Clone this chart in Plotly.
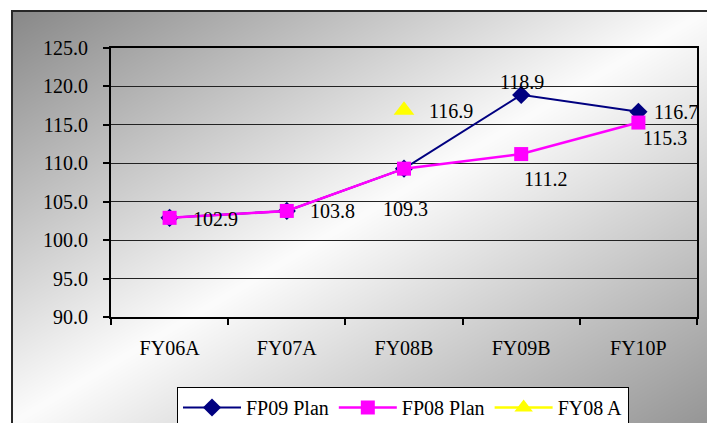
import base64
import struct
import zlib

import numpy as np
import plotly.graph_objects as go

# ---- data ----
categories = ["FY06A", "FY07A", "FY08B", "FY09B", "FY10P"]
fp09_plan = [102.9, 103.8, 109.3, 118.9, 116.7]
fp08_plan = [102.9, 103.8, 109.3, 111.2, 115.3]
fy08_actual_cat = ["FY08B"]
fy08_actual = [116.9]
y_ticks = [90.0, 95.0, 100.0, 105.0, 110.0, 115.0, 120.0, 125.0]

W, H = 707, 423
ML, MR, MT, MB = 111, 10, 48, 106
PW, PH = W - ML - MR, H - MT - MB
FONT = "Liberation Serif"


def png_data_uri(gray):
    """Encode a 2-D uint8 array as a grayscale PNG data URI."""
    h, w = gray.shape
    raw = b"".join(b"\x00" + gray[r].tobytes() for r in range(h))

    def chunk(tag, data):
        c = struct.pack(">I", len(data)) + tag + data
        return c + struct.pack(">I", zlib.crc32(tag + data) & 0xFFFFFFFF)

    png = b"\x89PNG\r\n\x1a\n"
    png += chunk(b"IHDR", struct.pack(">IIBBBBB", w, h, 8, 0, 0, 0, 0))
    png += chunk(b"IDAT", zlib.compress(raw, 9))
    png += chunk(b"IEND", b"")
    return "data:image/png;base64," + base64.b64encode(png).decode()


# chart-area backdrop: diagonal gray -> white -> gray gradient inside a dark frame
fx0, fy0 = 11, 10
yy, xx = np.mgrid[0:H, 0:W].astype(float)
t = (xx - fx0) / (W - fx0) + (yy - fy0) / (H - fy0)
g = np.where(t <= 1.0, 136 + 116 * t, 252 - 102 * (t - 1.0))
g = np.clip(g, 0, 255)
g[(xx < fx0) | (yy < fy0)] = 255
g[(yy >= fy0) & (yy < fy0 + 2) & (xx >= fx0)] = 40
g[(xx >= fx0) & (xx < fx0 + 2) & (yy >= fy0)] = 40
bg_uri = png_data_uri(g.astype(np.uint8))


def px_x(p):
    return (p - ML) / PW


def px_y(p):
    return (H - MB - p) / PH


fig = go.Figure()
fig.add_trace(go.Scatter(
    x=categories, y=fp09_plan, name="FP09 Plan", mode="lines+markers",
    line=dict(color="#000080", width=2),
    marker=dict(symbol="diamond", size=14, color="#000080"),
))
fig.add_trace(go.Scatter(
    x=categories, y=fp08_plan, name="FP08 Plan", mode="lines+markers",
    line=dict(color="#FF00FF", width=2.5),
    marker=dict(symbol="square", size=14, color="#FF00FF"),
))
fig.add_trace(go.Scatter(
    x=fy08_actual_cat, y=fy08_actual, name="FY08 A", mode="lines+markers",
    line=dict(color="#FFFF00", width=2.5),
    marker=dict(symbol="triangle-up", size=18, color="#FFFF00"),
))

# value labels: (category, value, x offset, y offset)
label_specs = [
    (categories[0], fp08_plan[0], 46, -1),
    (categories[1], fp08_plan[1], 46, 0),
    (categories[2], fp08_plan[2], 1, -40),
    (categories[3], fp08_plan[3], 25, -25),
    (categories[4], fp08_plan[4], 27, -15),
    (categories[3], fp09_plan[3], 1, 13),
    (categories[4], fp09_plan[4], 38, 0),
    (fy08_actual_cat[0], fy08_actual[0], 47, -1),
]
annotations = [
    dict(x=cx, y=v, xref="x", yref="y", text=f"{v:.1f}", showarrow=False,
         xanchor="center", yanchor="middle", xshift=dx, yshift=dy,
         font=dict(family=FONT, size=20, color="black"))
    for cx, v, dx, dy in label_specs
]

fig.update_layout(
    width=W, height=H,
    margin=dict(l=ML, r=MR, t=MT, b=MB, pad=0, autoexpand=False),
    paper_bgcolor="white",
    plot_bgcolor="rgba(0,0,0,0)",
    font=dict(family=FONT, size=20, color="black"),
    showlegend=True,
    legend=dict(
        orientation="h", xref="container", yref="container",
        x=403 / W, xanchor="center", y=(H - 387) / H, yanchor="top",
        bgcolor="white", bordercolor="black", borderwidth=1,
        font=dict(family=FONT, size=20, color="black"),
        itemwidth=58, tracegroupgap=0,
    ),
    annotations=annotations,
    images=[dict(
        source=bg_uri, xref="paper", yref="paper",
        x=px_x(0), y=px_y(0), sizex=W / PW, sizey=H / PH,
        xanchor="left", yanchor="top", sizing="stretch", layer="below",
    )],
    xaxis=dict(
        type="category", categoryorder="array", categoryarray=categories,
        range=[-0.5, len(categories) - 0.5],
        showgrid=False, zeroline=False,
        showline=True, linecolor="black", linewidth=2, mirror=True,
        ticks="outside", tickson="boundaries", ticklen=6, tickwidth=2, tickcolor="black",
        ticklabelstandoff=12,
        tickfont=dict(family=FONT, size=20, color="black"),
    ),
    yaxis=dict(
        range=[90, 125], tickvals=y_ticks, tickformat=".1f",
        showgrid=True, gridcolor="#222222", gridwidth=1, zeroline=False,
        showline=True, linecolor="black", linewidth=2, mirror=True,
        ticks="outside", ticklen=6, tickwidth=2, tickcolor="black",
        ticklabelstandoff=11,
        tickfont=dict(family=FONT, size=20, color="black"),
    ),
)

fig.write_html("out.html")
